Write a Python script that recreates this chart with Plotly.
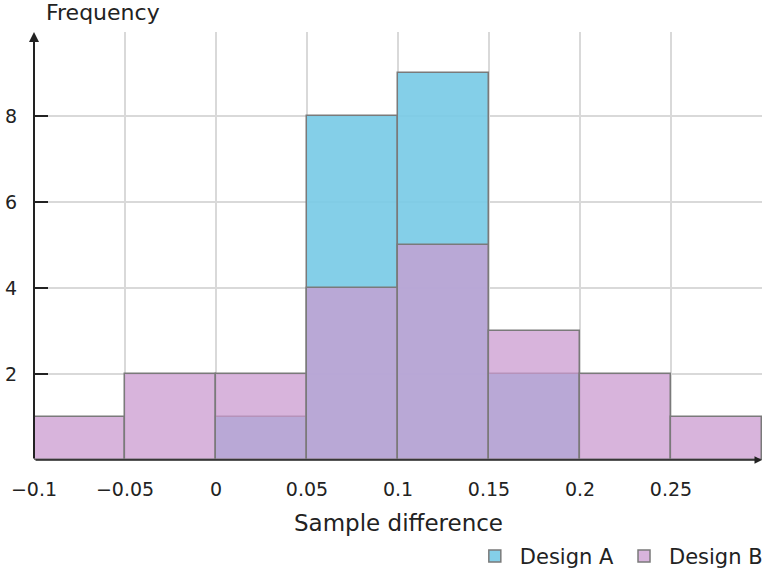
import plotly.graph_objects as go

# bin edges (width 0.05) and counts per bin
bin_edges = [-0.1, -0.05, 0.0, 0.05, 0.1, 0.15, 0.2, 0.25, 0.3]
design_a = [0, 0, 1, 8, 9, 2, 0, 0]
design_b = [1, 2, 2, 4, 5, 3, 2, 1]
x_tickvals = [-0.1, -0.05, 0, 0.05, 0.1, 0.15, 0.2, 0.25]
x_ticktext = ["−0.1", "−0.05", "0", "0.05", "0.1", "0.15", "0.2", "0.25"]
y_tickvals = [2, 4, 6, 8]

centers = [(bin_edges[i] + bin_edges[i + 1]) / 2 for i in range(len(bin_edges) - 1)]
widths = [bin_edges[i + 1] - bin_edges[i] for i in range(len(bin_edges) - 1)]

FONT = "DejaVu Sans"
AXIS = "#222222"

fig = go.Figure()
fig.add_trace(go.Bar(
    x=centers, y=design_a, width=widths, name="Design A",
    marker=dict(color="rgba(122,203,230,0.92)", line=dict(color="#7a7a7a", width=1.5)),
))
fig.add_trace(go.Bar(
    x=centers, y=design_b, width=widths, name="Design B",
    marker=dict(color="rgba(203,155,208,0.75)", line=dict(color="#7a7a7a", width=1.5)),
))

fig.update_layout(
    width=766, height=572,
    barmode="overlay", bargap=0,
    plot_bgcolor="white", paper_bgcolor="white",
    font=dict(family=FONT, size=19, color=AXIS),
    margin=dict(l=34, r=4, t=32, b=112, autoexpand=False),
    showlegend=True,
    legend=dict(orientation="h", x=1.008, xanchor="right", y=-0.225, yanchor="middle",
                font=dict(size=21), traceorder="normal", itemwidth=40),
    xaxis=dict(range=[-0.1, 0.3], tickvals=x_tickvals, ticktext=x_ticktext,
               showgrid=True, gridcolor="#d9d9d9", gridwidth=1.5, zeroline=False,
               showline=False, ticks="", ticklabelstandoff=16, automargin=False),
    yaxis=dict(range=[0, 9.95], tickvals=y_tickvals, showgrid=True, gridcolor="#d9d9d9",
               gridwidth=1.5, zeroline=False, showline=False, automargin=False,
               ticks="inside", ticklen=14, tickwidth=2, tickcolor=AXIS, ticklabelstandoff=16),
)

# axis lines with arrows
fig.add_annotation(x=-0.1, y=9.95, ax=-0.1, ay=0, xref="x", yref="y", axref="x", ayref="y",
                   showarrow=True, arrowhead=2, arrowsize=1, arrowwidth=2, arrowcolor=AXIS, text="")
fig.add_annotation(x=0.3, y=0, ax=-0.1, ay=0, xref="x", yref="y", axref="x", ayref="y",
                   showarrow=True, arrowhead=2, arrowsize=1, arrowwidth=1.5, arrowcolor=AXIS, text="")

fig.add_annotation(text="Frequency", xref="paper", yref="paper", x=0.014, y=1, yshift=20,
                   xanchor="left", yanchor="middle", showarrow=False, font=dict(size=22))
fig.add_annotation(text="Sample difference", xref="paper", yref="paper", x=0.5, y=0, yshift=-63,
                   xanchor="center", yanchor="middle", showarrow=False, font=dict(size=23))

fig.write_html("out.html", config={"displayModeBar": False},
               post_script="document.body.style.margin='0px';")
